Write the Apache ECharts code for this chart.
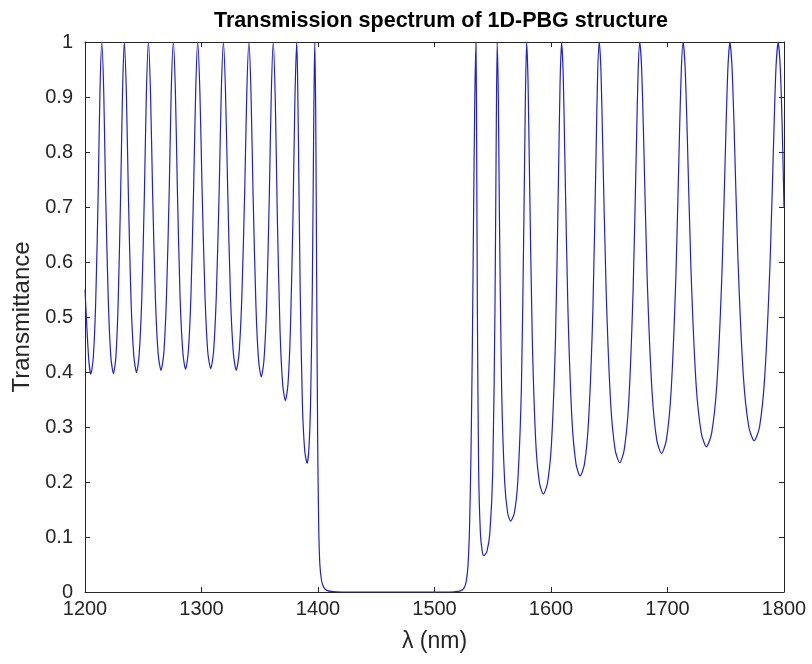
<!DOCTYPE html>
<html>
<head>
<meta charset="utf-8">
<script src="https://cdn.jsdelivr.net/npm/echarts@6/dist/echarts.min.js"></script>
<style>
html,body{margin:0;padding:0;background:#fff;}
#chart{width:812px;height:664px;}
</style>
</head>
<body>
<div id="chart"></div>
<script>
// Wavelength (nm) samples
const wavelength = [
1200,1203.1,1205.0,1207.1,1209.2,1211.3,1212.8,1214.4,1216.1,1217.7,1220.0,1222.2,1224.4,1226.5,1228.5,1230.6,1232.2,1233.7,
1235.5,1237.2,1239.5,1241.9,1244.2,1246.4,1248.7,1251.0,1252.7,1254.4,1256.2,1258.0,1260.4,1262.8,1265.2,1267.6,1269.9,1272.3,1274.0,1275.8,
1277.6,1279.3,1281.6,1284.0,1286.3,1288.6,1290.9,1293.2,1295.0,1296.7,1298.6,1300.5,1303.0,1305.4,1307.9,1310.3,1312.7,1315.2,1317.0,1318.8,
1320.6,1322.5,1324.9,1327.4,1329.8,1332.2,1334.6,1337.1,1338.9,1340.7,1342.5,1344.3,1346.7,1349.0,1351.3,1353.6,1355.9,1358.2,1359.9,1361.6,
1363.4,1365.1,1367.4,1369.7,1372.0,1374.2,1376.3,1378.5,1380.1,1381.7,1382.4,1383.2,1384.7,1386.6,1388.6,1390.6,1392.1,1393.6,1395.1,1396.2,1396.8,1397.3,
1398.1,1398.9,1399.7,1400.6,1401.6,1403.1,1405.1,1407.6,1411.6,1420,1450,1480,1510,1517,1522.3,1525.3,1527.3,1528.8,1530.1,1531.3,1532.5,1533.6,1534.6,1535.6,
1536.2,1536.8,1537.9,1539.4,1541.0,1542.5,1545.0,1547.5,1550.0,1551.9,1552.9,1553.8,
1554.8,1555.7,1557.6,1560.2,1562.8,1565.4,1568.5,1571.5,1574.6,1576.8,1578.0,1579.1,
1580.3,1581.5,1583.9,1587.0,1590.2,1593.4,1596.9,1600.4,1603.9,1606.5,1607.8,1609.1,
1610.5,1611.8,1614.5,1618.0,1621.5,1625.0,1628.7,1632.3,1636.0,1638.7,1640.0,1641.4,
1642.9,1644.3,1647.3,1651.2,1655.1,1659.0,1662.8,1666.7,1670.5,1673.4,1674.8,1676.2,
1677.8,1679.4,1682.5,1686.7,1690.8,1694.9,1699.0,1703.1,1707.2,1710.3,1711.9,1713.4,
1715.1,1716.8,1720.1,1724.5,1729.0,1733.4,1737.9,1742.4,1746.9,1750.2,1751.9,1753.6,
1755.3,1757.1,1760.5,1765.1,1769.8,1774.4,1779.0,1783.5,1788.1,1791.5,1793.2,1795.0,
1796.7,1798.4,1800
];
// Transmittance values
const transmittance = [
0.55,0.426,0.396,0.426,0.528,0.724,0.907,1,0.908,0.725,0.529,0.427,0.397,0.427,0.529,0.725,0.908,1,
0.908,0.726,0.531,0.429,0.399,0.429,0.531,0.726,0.908,1,0.910,0.730,0.535,0.433,0.403,0.433,0.535,0.730,0.910,1,
0.910,0.731,0.537,0.435,0.405,0.435,0.537,0.731,0.910,1,0.911,0.732,0.538,0.436,0.406,0.436,0.538,0.732,0.911,1,
0.910,0.730,0.535,0.433,0.403,0.433,0.535,0.730,0.910,1,0.906,0.720,0.522,0.421,0.391,0.421,0.522,0.720,0.906,1,
0.888,0.681,0.476,0.377,0.348,0.377,0.476,0.681,0.888,1,0.947,0.820,0.550,0.342,0.257,0.234,0.257,0.342,0.550,0.820,0.947,1,
0.85,0.55,0.28,0.12,0.05,0.02,0.008,0.003,0.001,0,0,0,0,0.0005,0.002,0.007,0.02,0.05,0.12,0.25,0.45,0.7,0.9,1,
0.806,0.513,0.220,0.107,0.074,0.066,0.074,0.107,0.220,0.513,0.806,1,
0.897,0.689,0.372,0.2015,0.1436,0.129,0.1436,0.2015,0.372,0.689,0.897,1,
0.927,0.764,0.464,0.2695,0.197,0.178,0.197,0.2695,0.464,0.764,0.927,1,
0.940,0.800,0.517,0.313,0.2325,0.211,0.2325,0.313,0.517,0.800,0.940,1,
0.947,0.821,0.551,0.344,0.258,0.235,0.258,0.344,0.551,0.821,0.947,1,
0.952,0.834,0.574,0.365,0.276,0.252,0.276,0.365,0.574,0.834,0.952,1,
0.955,0.843,0.589,0.379,0.289,0.264,0.289,0.379,0.589,0.843,0.955,1,
0.957,0.850,0.603,0.393,0.300,0.275,0.300,0.393,0.603,0.850,0.957,1,
0.957,0.850,0.70
];
const xTicks = {min: 1200, max: 1800, step: 100};
const yTicks = {min: 0, max: 1, step: 0.1};
const titleText = 'Transmission spectrum of 1D-PBG structure';
const xName = 'λ (nm)';
const yName = 'Transmittance';

const seriesData = wavelength.map((w, i) => [w, transmittance[i]]);
const font = 'Liberation Sans, Arial, Helvetica, sans-serif';
const ink = '#262626';

const chart = echarts.init(document.getElementById('chart'), null, {renderer: 'canvas'});
const axisCommon = {
  axisLine: {show: true, onZero: false, lineStyle: {color: ink, width: 1}},
  axisTick: {show: true, inside: true, length: 5, lineStyle: {color: ink}},
  splitLine: {show: false}
};
chart.setOption({
  animation: false,
  backgroundColor: '#ffffff',
  title: {
    text: titleText, left: 436, top: 5, textAlign: 'center',
    textStyle: {fontFamily: font, fontWeight: 'bold', fontSize: 21.5, color: '#000'}
  },
  grid: {left: 85, right: 28, top: 42, bottom: 72, containLabel: false},
  xAxis: [
    Object.assign({
      type: 'value', position: 'bottom', min: xTicks.min, max: xTicks.max, interval: xTicks.step,
      name: xName, nameLocation: 'middle', nameGap: 38,
      nameTextStyle: {fontFamily: font, fontSize: 23, color: ink},
      axisLabel: {fontFamily: font, fontSize: 20, color: ink, margin: 7, formatter: v => String(v)}
    }, axisCommon),
    Object.assign({
      type: 'value', position: 'top', min: xTicks.min, max: xTicks.max, interval: xTicks.step,
      axisLabel: {show: false}
    }, axisCommon)
  ],
  yAxis: [
    Object.assign({
      type: 'value', position: 'left', min: yTicks.min, max: yTicks.max, interval: yTicks.step,
      name: yName, nameLocation: 'middle', nameGap: 50,
      nameTextStyle: {fontFamily: font, fontSize: 24, color: ink},
      axisLabel: {fontFamily: font, fontSize: 20, color: ink, margin: 12,
        formatter: v => String(Math.round(v * 10) / 10)}
    }, axisCommon),
    Object.assign({
      type: 'value', position: 'right', min: yTicks.min, max: yTicks.max, interval: yTicks.step,
      axisLabel: {show: false}
    }, axisCommon)
  ],
  series: [{
    type: 'line', xAxisIndex: 0, yAxisIndex: 0,
    data: seriesData, showSymbol: false, smooth: 0.25, clip: true,
    lineStyle: {color: '#1f1fd6', width: 1.2}
  }]
});
</script>
</body>
</html>
